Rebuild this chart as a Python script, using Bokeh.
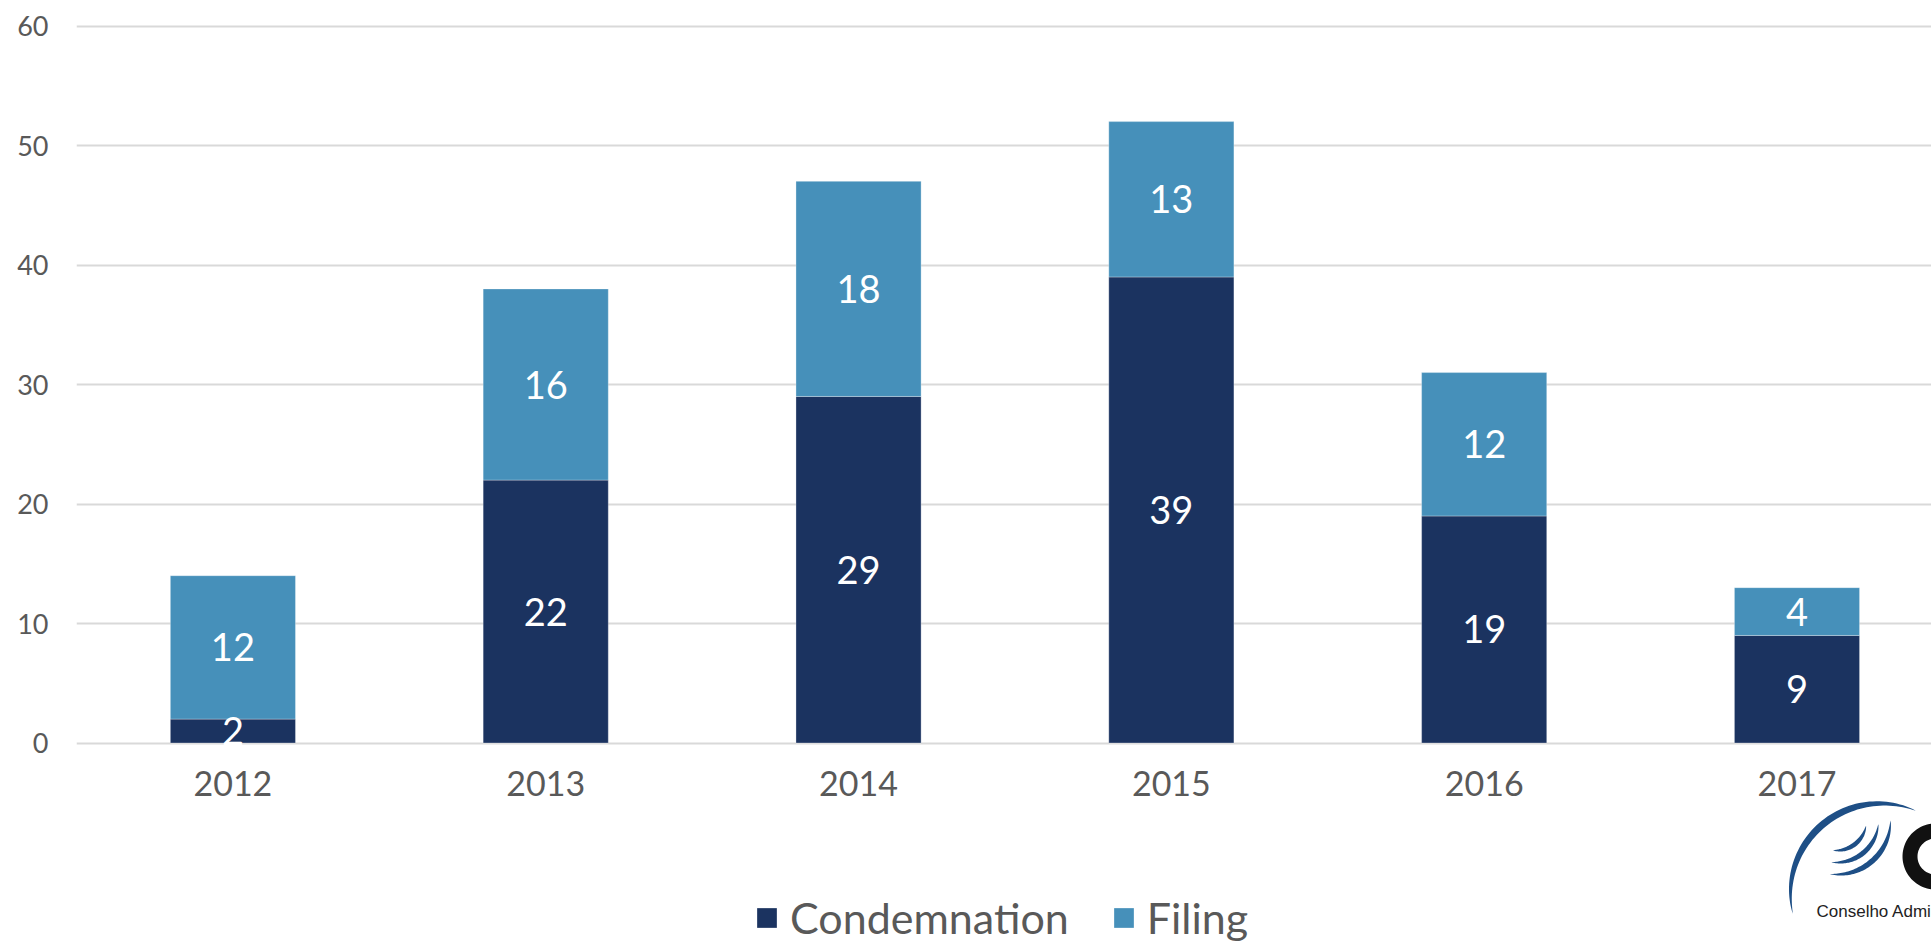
import numpy as np
from bokeh.plotting import figure
from bokeh.models import (ColumnDataSource, Range1d, FixedTicker, Legend, LegendItem,
                          PolyAnnotation, Label)
from bokeh.core.properties import value
from bokeh.embed import file_html
from bokeh.resources import INLINE

# ---- data ----
years = ["2012", "2013", "2014", "2015", "2016", "2017"]
condemnation = [2, 22, 29, 39, 19, 9]
filing = [12, 16, 18, 13, 12, 4]
series = ["condemnation", "filing"]
series_labels = ["Condemnation", "Filing"]
y_ticks = [0, 10, 20, 30, 40, 50, 60]

colors = ["#1B3360", "#4690BA"]
text_gray = "#595959"
FONT = "Lato"

idx = list(range(len(years)))
cond_mid = [c / 2 for c in condemnation]
fil_mid = [c + f / 2 for c, f in zip(condemnation, filing)]
src = ColumnDataSource(dict(x=idx, condemnation=condemnation, filing=filing,
                            cond_mid=cond_mid, fil_mid=fil_mid,
                            cond_txt=[str(v) for v in condemnation],
                            fil_txt=[str(v) for v in filing]))

p = figure(frame_width=1855, frame_height=921, min_border_left=76, min_border_right=0,
           min_border_top=23, min_border_bottom=0,
           x_range=Range1d(-0.5, 5.43), y_range=Range1d(-16.86, 60.21),
           output_backend="svg", toolbar_location=None, tools="")
p.outline_line_color = None

r = p.vbar_stack(series, x="x", width=0.4, source=src, color=colors,
                 line_color="white", line_alpha=0.3, line_width=1)

p.text(x="x", y="cond_mid", text="cond_txt", source=src, text_align="center",
       text_baseline="middle", text_color="white", text_font=value(FONT),
       text_font_size="38px")
p.text(x="x", y="fil_mid", text="fil_txt", source=src, text_align="center",
       text_baseline="middle", text_color="white", text_font=value(FONT),
       text_font_size="38px")

# axes
p.xaxis.ticker = FixedTicker(ticks=idx)
p.xaxis.major_label_overrides = {i: y for i, y in zip(idx, years)}
p.xaxis.fixed_location = 0
p.yaxis.ticker = FixedTicker(ticks=y_ticks)
for ax in (p.xaxis[0], p.yaxis[0]):
    ax.axis_line_color = None
    ax.major_tick_line_color = None
    ax.minor_tick_line_color = None
    ax.major_label_text_color = text_gray
    ax.major_label_text_font = FONT
p.xaxis.major_label_text_font_size = "34px"
p.xaxis.major_label_standoff = 22
p.yaxis.major_label_text_font_size = "27px"
p.yaxis.major_label_standoff = 22

p.xgrid.grid_line_color = None
p.ygrid.grid_line_color = "#D9D9D9"
p.ygrid.grid_line_width = 2

legend = Legend(items=[LegendItem(label=lab, renderers=[rr]) for lab, rr in zip(series_labels, r)],
                orientation="horizontal", location=(678, 1),
                label_text_font=FONT, label_text_font_size="43px", label_text_color=text_gray,
                glyph_width=25, glyph_height=25, label_standoff=11, spacing=42,
                padding=0, margin=0, border_line_color=None, background_fill_alpha=0)
p.add_layout(legend, "center")

# ---- logo (decoration, canvas pixels) ----
def crescent(cx, cy, r, a0, a1, tmax, n=60):
    a = np.radians(np.linspace(a0, a1, n))
    t = tmax * np.sin(np.linspace(0, np.pi, n)) ** 0.8
    xo = cx + (r + t / 2) * np.cos(a)
    yo = cy + (r + t / 2) * np.sin(a)
    xi = cx + (r - t / 2) * np.cos(a[::-1])
    yi = cy + (r - t / 2) * np.sin(a[::-1])
    return list(np.concatenate([xo, xi])), list(np.concatenate([yo, yi]))

def ring(cx, cy, ro, ri, a0, a1, n=60):
    a = np.radians(np.linspace(a0, a1, n))
    xo = cx + ro * np.cos(a); yo = cy + ro * np.sin(a)
    xi = cx + ri * np.cos(a[::-1]); yi = cy + ri * np.sin(a[::-1])
    return list(np.concatenate([xo, xi])), list(np.concatenate([yo, yi]))

logo_blue = "#1E4F86"
shapes = [
    (crescent(1880, 893, 90, 167, 293, 7), logo_blue),
    (crescent(1836, 820, 54, 0, 97, 5.5), logo_blue),
    (crescent(1836, 820, 42, 5, 97, 5), logo_blue),
    (crescent(1836, 820, 30, 10, 97, 4.5), logo_blue),
    (ring(1935, 856, 33, 18, 60, 300), "#111111"),
]
for (xs, ys), col in shapes:
    p.add_layout(PolyAnnotation(xs=xs, ys=ys, xs_units="canvas", ys_units="canvas",
                                fill_color=col, fill_alpha=1, line_color=None))
p.add_layout(Label(x=1816, y=901, x_units="canvas", y_units="canvas",
                   text="Conselho Administrativo de Recursos Fiscais",
                   text_font="Liberation Sans", text_font_size="17px",
                   text_color="#222222", text_baseline="top"))

open("out.html", "w").write(file_html(p, INLINE))
